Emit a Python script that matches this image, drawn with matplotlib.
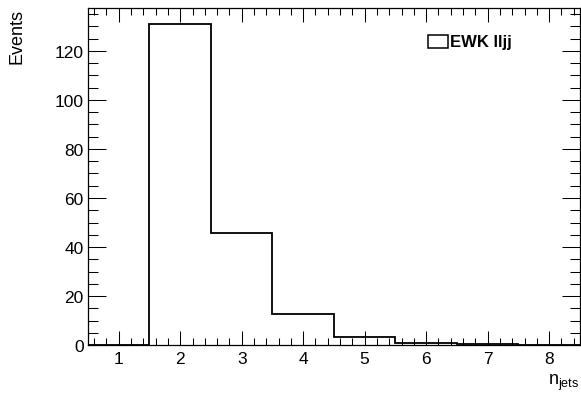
import matplotlib
matplotlib.use("Agg")
import matplotlib.pyplot as plt
import numpy as np
from matplotlib.patches import Rectangle
from matplotlib.ticker import MultipleLocator

plt.rcParams["font.family"] = ["Liberation Sans", "DejaVu Sans"]

# Data: n_jets histogram (EWK lljj)
bin_edges = [0.5, 1.5, 2.5, 3.5, 4.5, 5.5, 6.5, 7.5, 8.5]
events = [0.0, 131.0, 45.7, 12.6, 3.4, 0.9, 0.4, 0.2]
legend_label = "EWK lljj"
x_ticks = [1, 2, 3, 4, 5, 6, 7, 8]
y_ticks = [0, 20, 40, 60, 80, 100, 120]

fig = plt.figure(figsize=(5.81, 4.02), dpi=100)
ax = fig.add_axes([0.1515, 0.139, 0.998 - 0.1515, 0.978 - 0.139])

ax.stairs(events, bin_edges, baseline=0, fill=False, color="black", linewidth=1.3)

ax.set_xlim(bin_edges[0], bin_edges[-1])
ax.set_ylim(0, max(events) * 1.05)

# ROOT-like ticks
ax.set_xticks(x_ticks)
ax.set_yticks(y_ticks)
ax.xaxis.set_minor_locator(MultipleLocator(0.2))
ax.yaxis.set_minor_locator(MultipleLocator(5))
ax.tick_params(axis="both", which="both", direction="in", top=True, right=True,
               labelsize=12.5, width=0.75, colors="black")
ax.tick_params(axis="x", which="major", length=10, pad=4)
ax.tick_params(axis="x", which="minor", length=5)
ax.tick_params(axis="y", which="major", length=13, pad=3)
ax.tick_params(axis="y", which="minor", length=7)
for s in ax.spines.values():
    s.set_linewidth(0.9)

# axis titles
fig.text(0.998, 0.022, r"$\mathregular{n_{jets}}$", ha="right", va="bottom", fontsize=13)
fig.text(0.03, 0.978, "Events", rotation=90, ha="center", va="top", fontsize=13)

# legend
fig.patches.append(Rectangle((428 / 581, 1 - 49 / 402), 20 / 581, 13 / 402,
                             transform=fig.transFigure, fill=False,
                             edgecolor="black", linewidth=1.1))
fig.text(450 / 581, 1 - 42 / 402, legend_label, ha="left", va="center",
         fontsize=12, fontweight="bold")

fig.savefig("out.png", dpi=100)
